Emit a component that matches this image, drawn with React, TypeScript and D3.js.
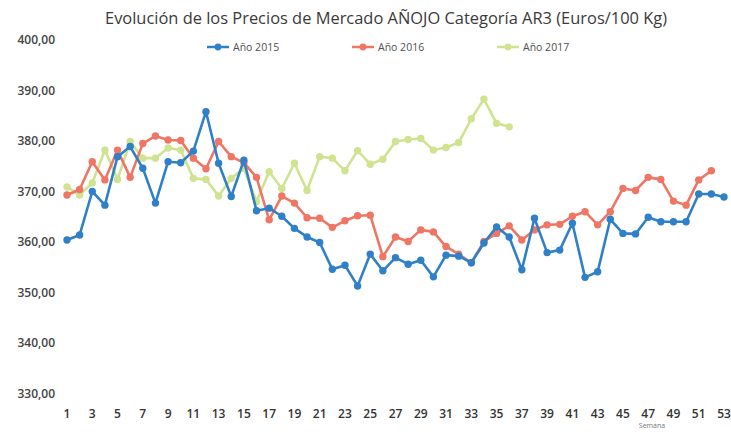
import * as d3 from 'd3';
import React, { useEffect, useRef } from 'react';

// weekly prices (Euros/100 Kg)
const weeks2015 = d3.range(1, 54);
const values2015 = [360.4, 361.4, 370, 367.3, 376.9, 378.9, 374.6, 367.7, 375.9, 375.7, 378.0, 385.8, 375.6, 369.0, 376.2, 366.2, 366.7, 365.1, 362.7, 361.0, 359.9, 354.6, 355.4, 351.3, 357.6, 354.3, 356.9, 355.6, 356.4, 353.1, 357.4, 357.2, 355.9, 359.8, 363.0, 361.0, 354.5, 364.7, 357.9, 358.4, 363.7, 353.0, 354.1, 364.5, 361.7, 361.6, 364.9, 364.0, 364.0, 364.0, 369.5, 369.5, 368.9];
const values2016 = [369.3, 370.4, 375.9, 372.3, 378.2, 372.8, 379.5, 381.0, 380.2, 380.1, 376.6, 374.5, 379.9, 376.9, 375.7, 372.8, 364.4, 369.1, 367.7, 364.8, 364.7, 362.9, 364.2, 365.2, 365.3, 357.1, 361.0, 360.1, 362.4, 362.0, 359.1, 357.6, 355.9, 360.1, 361.7, 363.2, 360.4, 362.4, 363.4, 363.5, 365.1, 366.0, 363.4, 366.0, 370.6, 370.2, 372.8, 372.4, 368.1, 367.3, 372.3, 374.1];
const values2017 = [370.9, 369.3, 371.7, 378.2, 372.4, 379.9, 376.6, 376.6, 378.6, 378.2, 372.6, 372.4, 369.1, 372.6, 374.6, 368.0, 373.9, 370.6, 375.6, 370.2, 376.9, 376.6, 374.1, 378.1, 375.4, 376.4, 379.9, 380.3, 380.5, 378.2, 378.7, 379.7, 384.4, 388.3, 383.5, 382.8];

const seriesNames = ['Año 2015', 'Año 2016', 'Año 2017'];
const seriesColors = ['#2f80c8', '#ef7565', '#cfe390'];
const yTicks = [330, 340, 350, 360, 370, 380, 390, 400];
const xTicks = d3.range(1, 54, 2);

const App = () => {
  const ref = useRef<SVGSVGElement>(null);

  useEffect(() => {
    const svg = d3.select(ref.current);
    svg.selectAll('*').remove();

    const x = d3.scaleLinear().domain([1, 53]).range([67, 724]);
    const y = d3.scaleLinear().domain([330, 400]).range([393.5, 40]);

    svg.append('rect').attr('width', 731).attr('height', 432).attr('fill', '#fff');

    svg.append('text')
      .attr('x', 386).attr('y', 24)
      .attr('text-anchor', 'middle')
      .attr('font-family', 'Open Sans')
      .attr('font-size', 17)
      .attr('fill', '#3a3a3a')
      .attr('textLength', 562).attr('lengthAdjust', 'spacingAndGlyphs')
      .text('Evolución de los Precios de Mercado AÑOJO Categoría AR3 (Euros/100 Kg)');

    // y axis labels
    svg.append('g').selectAll('text').data(yTicks).enter().append('text')
      .attr('x', 55).attr('y', d => y(d) + 4)
      .attr('text-anchor', 'end')
      .attr('font-family', 'Open Sans').attr('font-size', 12).attr('font-weight', 600)
      .attr('fill', '#444')
      .text(d => d3.format('.2f')(d).replace('.', ','));

    // x axis labels
    svg.append('g').selectAll('text').data(xTicks).enter().append('text')
      .attr('x', d => x(d)).attr('y', 418)
      .attr('text-anchor', 'middle')
      .attr('font-family', 'Open Sans').attr('font-size', 12).attr('font-weight', 600)
      .attr('fill', '#333')
      .text(d => d);

    svg.append('text')
      .attr('x', 652).attr('y', 428)
      .attr('text-anchor', 'middle')
      .attr('font-family', 'Open Sans').attr('font-size', 7)
      .attr('fill', '#777')
      .text('Semana');

    const series = [values2015, values2016, values2017];
    const line = d3.line<number>().x((d, i) => x(weeks2015[i])).y(d => y(d));

    // draw 2017 first so 2015 sits on top
    [2, 1, 0].forEach(k => {
      const g = svg.append('g');
      g.append('path').datum(series[k])
        .attr('d', line)
        .attr('fill', 'none')
        .attr('stroke', seriesColors[k])
        .attr('stroke-width', 2.6)
        .attr('stroke-linejoin', 'round');
      g.selectAll('circle').data(series[k]).enter().append('circle')
        .attr('cx', (d, i) => x(weeks2015[i]))
        .attr('cy', d => y(d))
        .attr('r', 3.7)
        .attr('fill', seriesColors[k]);
    });

    // legend
    const legendX = [207, 352, 497];
    const legend = svg.append('g').selectAll('g').data(seriesNames).enter().append('g')
      .attr('transform', (d, i) => `translate(${legendX[i]},47)`);
    legend.append('line').attr('x1', 0).attr('x2', 22)
      .attr('stroke', (d, i) => seriesColors[i]).attr('stroke-width', 2.5);
    legend.append('circle').attr('cx', 11).attr('r', 3.4)
      .attr('fill', (d, i) => seriesColors[i]);
    legend.append('text').attr('x', 26).attr('y', 4)
      .attr('font-family', 'Open Sans').attr('font-size', 10.5)
      .attr('fill', '#505050')
      .text(d => d);
  });

  return (
    <svg ref={ref} width={731} height={432} style={{ position: 'absolute', left: 0, top: 0 }} />
  );
};

export default App;
